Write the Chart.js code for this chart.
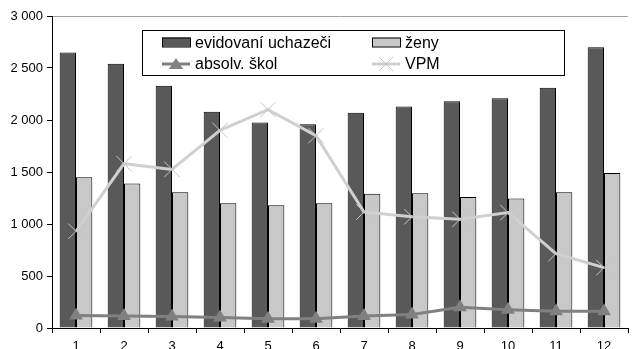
<!DOCTYPE html>
<html>
<head>
<meta charset="utf-8">
<script src="https://cdn.jsdelivr.net/npm/chart.js@4"></script>
<style>
  html, body { margin: 0; padding: 0; background: #fff; overflow: hidden; }
  #wrap { width: 640px; height: 358px; }
</style>
</head>
<body>
<div id="wrap"><canvas id="chart" width="640" height="358"></canvas></div>
<script>
const months = ['1', '2', '3', '4', '5', '6', '7', '8', '9', '10', '11', '12'];
const uchazeci = [2650, 2540, 2330, 2080, 1975, 1960, 2070, 2130, 2180, 2210, 2310, 2700];
const zeny = [1450, 1390, 1305, 1200, 1180, 1200, 1290, 1295, 1260, 1245, 1305, 1490];
const absolv = [120, 115, 110, 100, 90, 90, 115, 130, 200, 175, 160, 160];
const vpm = [930, 1580, 1525, 1900, 2100, 1850, 1115, 1070, 1045, 1110, 715, 580];

const font = 'Liberation Sans, Arial, sans-serif';

// legend in a framed box, 2 columns like the original
const boxLegend = {
  id: 'boxLegend',
  afterDraw(chart) {
    const ctx = chart.ctx;
    const ds = chart.data.datasets;
    ctx.save();
    ctx.fillStyle = '#fff';
    ctx.fillRect(142, 30, 422, 45);
    ctx.strokeStyle = '#000';
    ctx.lineWidth = 1;
    ctx.strokeRect(142.5, 30.5, 422, 45);
    const cols = [162, 372];
    const rows = [42.5, 64];
    const items = [[ds[0], 0, 0], [ds[1], 1, 0], [ds[2], 0, 1], [ds[3], 1, 1]];
    ctx.font = '16px ' + font;
    ctx.textBaseline = 'middle';
    items.forEach(([d, c, r]) => {
      const x = cols[c], y = rows[r];
      if (d.type === 'bar') {
        ctx.fillStyle = d.backgroundColor;
        ctx.fillRect(x, y - 5, 28, 9);
        ctx.strokeStyle = '#000';
        ctx.strokeRect(x + 0.5, y - 4.5, 28, 9);
      } else {
        ctx.strokeStyle = d.borderColor;
        ctx.lineWidth = 3;
        ctx.beginPath();
        ctx.moveTo(x, y); ctx.lineTo(x + 28, y);
        ctx.stroke();
        const mx = x + 14;
        if (d.pointStyle === 'triangle') {
          ctx.fillStyle = d.pointBackgroundColor;
          ctx.beginPath();
          ctx.moveTo(mx, y - 6); ctx.lineTo(mx + 7, y + 5); ctx.lineTo(mx - 7, y + 5);
          ctx.closePath(); ctx.fill();
        } else {
          ctx.strokeStyle = d.pointBorderColor;
          ctx.lineWidth = 1;
          ctx.beginPath();
          ctx.moveTo(mx - 7, y - 7); ctx.lineTo(mx + 7, y + 7);
          ctx.moveTo(mx + 7, y - 7); ctx.lineTo(mx - 7, y + 7);
          ctx.stroke();
        }
      }
      ctx.fillStyle = '#000';
      ctx.fillText(d.label, x + 33, y + 1);
    });
    ctx.restore();
  }
};

new Chart(document.getElementById('chart'), {
  data: {
    labels: months,
    datasets: [
      {
        type: 'bar', label: 'evidovaní uchazeči', data: uchazeci,
        backgroundColor: '#595959', borderColor: '#000', borderWidth: 1,
        categoryPercentage: 0.68, barPercentage: 1, order: 2
      },
      {
        type: 'bar', label: 'ženy', data: zeny,
        backgroundColor: '#c8c8c8', borderColor: '#000', borderWidth: 1,
        categoryPercentage: 0.68, barPercentage: 1, order: 2
      },
      {
        type: 'line', label: 'absolv. škol', data: absolv,
        borderColor: '#808080', borderWidth: 3,
        pointStyle: 'triangle', pointRadius: 8,
        pointBackgroundColor: '#808080', pointBorderColor: '#808080', pointBorderWidth: 0,
        tension: 0, order: 1
      },
      {
        type: 'line', label: 'VPM', data: vpm,
        borderColor: '#d0d0d0', borderWidth: 3,
        pointStyle: 'crossRot', pointRadius: 11,
        pointBorderColor: '#c4c4c4', pointBorderWidth: 1,
        pointBackgroundColor: '#c4c4c4',
        tension: 0, order: 1
      }
    ]
  },
  options: {
    responsive: false,
    animation: false,
    layout: { padding: { top: 16, right: 2, left: 0, bottom: 0 } },
    plugins: { legend: { display: false }, tooltip: { enabled: false } },
    scales: {
      x: {
        afterFit: s => { s.height = 30; },
        grid: { offset: true, drawOnChartArea: false, drawTicks: true, tickLength: 5, color: '#000' },
        border: { color: '#000', width: 1 },
        ticks: { color: '#000', font: { family: font, size: 13 }, padding: 6, maxRotation: 0 }
      },
      y: {
        min: 0, max: 3000,
        afterFit: s => { s.width = 52; },
        grid: {
          drawOnChartArea: true, drawTicks: true, tickLength: 5,
          color: c => (c.tick && c.tick.value === 3000) ? '#a0a0a0' : 'rgba(0,0,0,0)',
          tickColor: '#000'
        },
        border: { color: '#000', width: 1 },
        ticks: {
          stepSize: 500, color: '#000', padding: 4,
          font: { family: font, size: 13 },
          callback: v => String(v).replace(/\B(?=(\d{3})+(?!\d))/g, ' ')
        }
      }
    }
  },
  plugins: [boxLegend]
});
</script>
</body>
</html>
